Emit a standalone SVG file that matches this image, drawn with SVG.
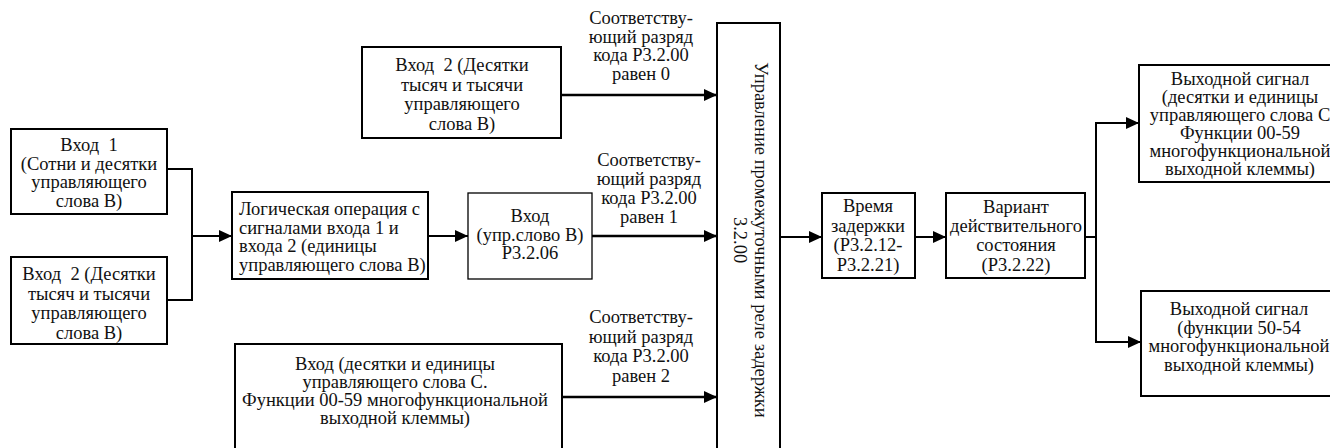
<svg xmlns="http://www.w3.org/2000/svg" width="1330" height="448" viewBox="0 0 1330 448">
<style>
.box{fill:#fff;stroke:#000;stroke-width:2}
.thin{fill:#fff;stroke:#000;stroke-width:1.3}
.ln{fill:none;stroke:#000;stroke-width:2}
.lnb{fill:none;stroke:#000;stroke-width:2.5}
text{font-family:"Liberation Serif","Times New Roman",serif;font-size:18.5px;fill:#111}
.c{text-anchor:middle}
</style>
<defs>
<marker id="ar" markerUnits="userSpaceOnUse" markerWidth="13" markerHeight="12" refX="13" refY="6" orient="auto">
<path d="M0,0 L13,6 L0,12 z" fill="#000"/>
</marker>
</defs>
<rect width="1330" height="448" fill="#fff"/>
<g id="connectors">
<polyline class="ln" points="167,169 192,169 192,300 167,300"/>
<line class="ln" x1="192" y1="236" x2="232" y2="236" marker-end="url(#ar)"/>
<line class="ln" x1="428" y1="236" x2="468" y2="236" marker-end="url(#ar)"/>
<line class="lnb" x1="592" y1="236" x2="717" y2="236" marker-end="url(#ar)"/>
<line class="lnb" x1="561" y1="95" x2="717" y2="95" marker-end="url(#ar)"/>
<line class="lnb" x1="562" y1="397" x2="717" y2="397" marker-end="url(#ar)"/>
<line class="ln" x1="780" y1="237" x2="822" y2="237" marker-end="url(#ar)"/>
<line class="ln" x1="915" y1="237" x2="946" y2="237" marker-end="url(#ar)"/>
<polyline class="ln" points="1085,237 1096,237"/>
<line class="ln" x1="1096" y1="122" x2="1096" y2="343"/>
<line class="ln" x1="1095" y1="123" x2="1139" y2="123" marker-end="url(#ar)"/>
<line class="ln" x1="1095" y1="342" x2="1141" y2="342" marker-end="url(#ar)"/>
<text class="c"><tspan x="641" y="24">Соответству-</tspan><tspan x="641" y="42.5">ющий разряд</tspan><tspan x="641" y="61">кода Р3.2.00</tspan><tspan x="641" y="79.5">равен 0</tspan></text>
<text class="c"><tspan x="649" y="166">Соответству-</tspan><tspan x="649" y="185">ющий разряд</tspan><tspan x="649" y="204">кода Р3.2.00</tspan><tspan x="649" y="223">равен 1</tspan></text>
<text class="c"><tspan x="641" y="323">Соответству-</tspan><tspan x="641" y="342.5">ющий разряд</tspan><tspan x="641" y="362">кода Р3.2.00</tspan><tspan x="641" y="381.5">равен 2</tspan></text>
</g>
<g id="in1">
<rect class="box" x="11" y="129" width="156" height="85"/>
<text class="c"><tspan x="89" y="151" xml:space="preserve">Вход  1</tspan><tspan x="89" y="169.5">(Сотни и десятки</tspan><tspan x="89" y="188">управляющего</tspan><tspan x="89" y="206.5">слова В)</tspan></text>
</g>
<g id="in2left">
<rect class="box" x="11" y="257" width="156" height="87"/>
<text class="c"><tspan x="89" y="280" xml:space="preserve">Вход  2 (Десятки</tspan><tspan x="89" y="299.5">тысяч и тысячи</tspan><tspan x="89" y="319">управляющего</tspan><tspan x="89" y="338.5">слова В)</tspan></text>
</g>
<g id="in2top">
<rect class="box" x="362" y="47" width="199" height="91"/>
<text class="c"><tspan x="462" y="71" xml:space="preserve">Вход  2 (Десятки</tspan><tspan x="462" y="90.5">тысяч и тысячи</tspan><tspan x="462" y="110">управляющего</tspan><tspan x="462" y="129.5">слова В)</tspan></text>
</g>
<g id="logic">
<rect class="box" x="232" y="192" width="196" height="87"/>
<text><tspan x="239" y="215">Логическая операция с</tspan><tspan x="239" y="233.5">сигналами входа 1 и</tspan><tspan x="239" y="252">входа 2 (единицы</tspan><tspan x="239" y="270.5">управляющего слова В)</tspan></text>
</g>
<g id="inB">
<rect class="thin" x="468" y="193" width="124" height="86"/>
<text class="c"><tspan x="530" y="222">Вход</tspan><tspan x="530" y="240.5">(упр.слово В)</tspan><tspan x="530" y="259">Р3.2.06</tspan></text>
</g>
<g id="inC">
<rect class="box" x="235" y="344" width="327" height="130"/>
<text class="c"><tspan x="395" y="370">Вход (десятки и единицы</tspan><tspan x="395" y="388">управляющего слова С.</tspan><tspan x="395" y="406">Функции 00-59 многофункциональной</tspan><tspan x="395" y="424">выходной клеммы)</tspan></text>
</g>
<g id="relay">
<rect class="box" x="717" y="23" width="63" height="450"/>
<text class="c" transform="translate(755,240) rotate(90)"><tspan x="0" y="0">Управление промежуточными реле задержки</tspan><tspan x="0" y="21">3.2.00</tspan></text>
</g>
<g id="delay">
<rect class="box" x="822" y="193" width="93" height="85"/>
<text class="c"><tspan x="868" y="212">Время</tspan><tspan x="868" y="231.5">задержки</tspan><tspan x="868" y="251">(Р3.2.12-</tspan><tspan x="868" y="270.5">Р3.2.21)</tspan></text>
</g>
<g id="variant">
<rect class="box" x="946" y="193" width="139" height="85"/>
<text class="c"><tspan x="1016" y="213">Вариант</tspan><tspan x="1016" y="232">действительного</tspan><tspan x="1016" y="251">состояния</tspan><tspan x="1016" y="270.5">(Р3.2.22)</tspan></text>
</g>
<g id="out1">
<rect class="box" x="1139" y="65" width="220" height="117"/>
<text class="c"><tspan x="1240" y="85">Выходной сигнал</tspan><tspan x="1240" y="103">(десятки и единицы</tspan><tspan x="1240" y="121">управляющего слова С</tspan><tspan x="1240" y="139">Функции 00-59</tspan><tspan x="1240" y="157">многофункциональной</tspan><tspan x="1240" y="175">выходной клеммы)</tspan></text>
</g>
<g id="out2">
<rect class="box" x="1141" y="291" width="220" height="105"/>
<text class="c"><tspan x="1239" y="315">Выходной сигнал</tspan><tspan x="1239" y="333.5">(функции 50-54</tspan><tspan x="1239" y="352">многофункциональной</tspan><tspan x="1239" y="370.5">выходной клеммы)</tspan></text>
</g>
</svg>
